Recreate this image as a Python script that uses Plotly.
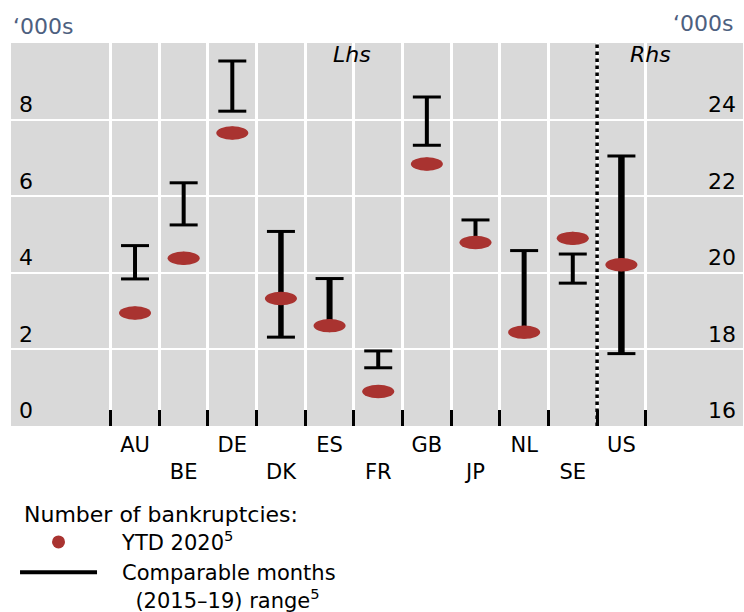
import plotly.graph_objects as go

# ---------------- data ----------------
categories = ["AU", "BE", "DE", "DK", "ES", "FR", "GB", "JP", "NL", "SE", "US"]
rhs_categories = ["US"]  # plotted against the right-hand axis
ytd_2020 = [2.95, 4.38, 7.65, 3.33, 2.62, 0.90, 6.84, 4.79, 2.45, 4.90, 20.21]
range_low = [3.84, 5.25, 8.22, 2.32, 2.63, 1.52, 7.33, 4.80, 2.46, 3.73, 17.89]
range_high = [4.71, 6.35, 9.53, 5.08, 3.85, 1.96, 8.59, 5.38, 4.58, 4.49, 23.05]
lhs_ticks = [0, 2, 4, 6, 8]
rhs_ticks = [16, 18, 20, 22, 24]

# ---------------- styles ----------------
FONT = "DejaVu Sans"
RED = "#a93330"
BG = "#d9d9d9"
UNIT_COLOR = "#4d6080"
NB = "\u00a0"
stem_widths = [4, 4, 4, 5.5, 6, 4, 4, 4, 5, 4, 6.5]

n = len(categories)
xs = list(range(n))
ticktext = [c if i % 2 == 0 else "<br>" + c for i, c in enumerate(categories)]

fig = go.Figure()

# range stems
for i, c in enumerate(categories):
    ya = "y2" if c in rhs_categories else "y"
    fig.add_trace(go.Scatter(
        x=[xs[i], xs[i]], y=[range_low[i], range_high[i]], yaxis=ya,
        mode="lines", line=dict(color="black", width=stem_widths[i]),
        name=NB * 3 + "Comparable months<br>" + NB * 5 + "(2015\u201319) range<sup>5</sup>",
        legendgroup="range", showlegend=(i == 0), legendrank=2,
        hoverinfo="skip"))

# range caps (line-ew marker: drawn length = 1.4 * size)
for ya, sel in (("y", lambda c: c not in rhs_categories), ("y2", lambda c: c in rhs_categories)):
    cx, cy = [], []
    for i, c in enumerate(categories):
        if sel(c):
            cx += [xs[i], xs[i]]
            cy += [range_low[i], range_high[i]]
    fig.add_trace(go.Scatter(
        x=cx, y=cy, yaxis=ya, mode="markers",
        marker=dict(symbol="line-ew", size=20, color="black",
                    line=dict(color="black", width=3)),
        showlegend=False, hoverinfo="skip"))

# YTD 2020 dots
for ya, sel in (("y", lambda c: c not in rhs_categories), ("y2", lambda c: c in rhs_categories)):
    px_, py_ = [], []
    for i, c in enumerate(categories):
        if sel(c):
            px_.append(xs[i])
            py_.append(ytd_2020[i])
    fig.add_trace(go.Scatter(
        x=px_, y=py_, yaxis=ya, mode="markers",
        marker=dict(symbol="circle", size=13, color=RED),
        name=NB * 3 + "YTD 2020<sup>5</sup>", legendgroup="ytd",
        showlegend=(ya == "y"), legendrank=1))
    # elliptical dot shapes (wider than tall, as in the original)
    for x_, y_ in zip(px_, py_):
        fig.add_shape(type="circle", xref="x", yref=ya,
                      x0=x_ - 0.33, x1=x_ + 0.33, y0=y_ - 0.175, y1=y_ + 0.175,
                      fillcolor=RED, line=dict(width=0), layer="above")

# dotted separator between Lhs and Rhs
split = categories.index(rhs_categories[0]) - 0.5
fig.add_shape(type="line", xref="x", yref="paper", x0=split, x1=split, y0=0, y1=1,
              line=dict(color="black", width=3.5, dash="dot"), layer="above")

fig.update_layout(
    width=744, height=612,
    margin=dict(l=11, r=1, t=43, b=186, autoexpand=False),
    paper_bgcolor="white", plot_bgcolor=BG,
    font=dict(family=FONT, size=22, color="black"),
    showlegend=True,
    xaxis=dict(range=[-2.55, 12.5], tickmode="array", tickvals=xs, ticktext=ticktext,
               showgrid=False, zeroline=False, showline=False, ticks="",
               tickfont=dict(size=21, color="black"), ticklabelstandoff=4,
               minor=dict(tickmode="array", tickvals=[x - 0.5 for x in xs] + [xs[-1] + 0.5],
                          showgrid=True, gridcolor="white", gridwidth=2.5,
                          ticks="inside", ticklen=16, tickwidth=2.5, tickcolor="black")),
    yaxis=dict(range=[0, 10], tickmode="array", tickvals=lhs_ticks,
               showgrid=True, gridcolor="white", gridwidth=2, zeroline=False,
               ticks="", ticklabelposition="inside top", ticklabelstandoff=5,
               tickfont=dict(size=22, color="black")),
    yaxis2=dict(range=[16, 26], tickmode="array", tickvals=rhs_ticks, overlaying="y",
                side="right", showgrid=False, zeroline=False, ticks="",
                ticklabelposition="inside top", ticklabelstandoff=4,
                tickfont=dict(size=22, color="black")),
    legend=dict(title=dict(text=NB + "Number of bankruptcies:", font=dict(size=22)),
                x=0.0055, xanchor="left", y=-0.1755, yanchor="top",
                orientation="v", valign="top", itemwidth=77,
                font=dict(size=21), bgcolor="rgba(0,0,0,0)", tracegroupgap=0),
    annotations=[
        dict(text="\u2018000s", xref="paper", yref="paper", x=0.0, y=1.044,
             xanchor="left", yanchor="middle", showarrow=False,
             font=dict(size=22, color=UNIT_COLOR)),
        dict(text="\u2018000s", xref="paper", yref="paper", x=0.989, y=1.05,
             xanchor="right", yanchor="middle", showarrow=False,
             font=dict(size=22, color=UNIT_COLOR)),
        dict(text="<i>Lhs</i>", xref="paper", yref="paper", x=0.466, y=0.969,
             xanchor="center", yanchor="middle", showarrow=False, font=dict(size=22)),
        dict(text="<i>Rhs</i>", xref="paper", yref="paper", x=0.873, y=0.969,
             xanchor="center", yanchor="middle", showarrow=False, font=dict(size=22)),
    ],
)

fig.write_html("out.html", config={"displayModeBar": False},
               post_script="document.body.style.margin='0';document.body.style.overflow='hidden';")
